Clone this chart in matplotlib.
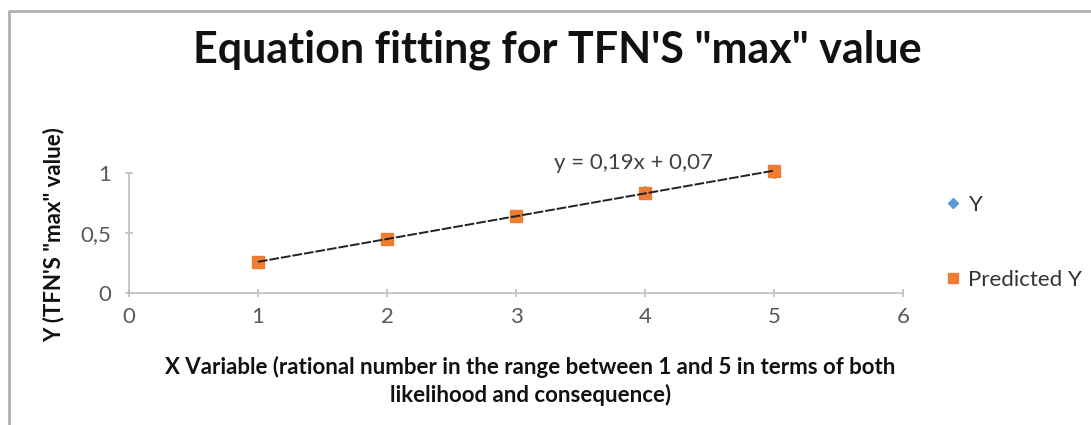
import matplotlib
matplotlib.use("Agg")
import matplotlib.pyplot as plt
from matplotlib.lines import Line2D
import numpy as np

plt.rcParams['font.family'] = ['Lato', 'DejaVu Sans']

x_vals = [1, 2, 3, 4, 5]
y_actual = [0.25, 0.45, 0.65, 0.85, 1.00]
slope = 0.19
intercept = 0.07
y_pred = [0.26, 0.45, 0.64, 0.83, 1.02]
x_ticks = [0, 1, 2, 3, 4, 5, 6]
y_ticks = [0, 0.5, 1]
y_tick_labels = ['0', '0,5', '1']

title = 'Equation fitting for TFN\'S "max" value'
xlabel = 'X Variable (rational number in the range between 1 and 5 in terms of both\nlikelihood and consequence)'
ylabel = 'Y (TFN\'S "max" value)'
eq_text = 'y = 0,19x + 0,07'

fig = plt.figure(figsize=(10.91, 4.25), dpi=100)
ax = fig.add_axes([0.1182, 0.3106, 0.8277 - 0.1182, 0.5929 - 0.3106])

blue = '#5B9BD5'
orange = '#ED7D31'
axis_gray = '#BFBFBF'

ax.plot(x_vals, y_actual, linestyle='none', marker='D', color=blue, markersize=5, zorder=3, clip_on=False)
ax.plot(x_vals, y_pred, linestyle='none', marker='s', color=orange, markersize=8.5, zorder=4, clip_on=False)
xt = np.array([x_vals[0], x_vals[-1]])
ax.plot(xt, slope * xt + intercept, color='#222222', linewidth=1.4, linestyle=(0, (5, 1)), zorder=5, clip_on=False)

ax.set_xlim(0, 6)
ax.set_ylim(0, 1)
ax.set_xticks(x_ticks)
ax.set_yticks(y_ticks)
ax.set_yticklabels(y_tick_labels)
for s in ['top', 'right']:
    ax.spines[s].set_visible(False)
for s in ['left', 'bottom']:
    ax.spines[s].set_color(axis_gray)
    ax.spines[s].set_linewidth(1.2)
ax.tick_params(axis='both', colors=axis_gray, labelcolor='#595959', labelsize=16, length=6, width=1.2, direction='inout')
ax.tick_params(axis='x', pad=7)
ax.tick_params(axis='y', pad=10)

fig.text(0.511, 0.882, title, ha='center', va='center', fontsize=31, fontweight='bold', color='#111111')
fig.text(0.486, 0.103, xlabel, ha='center', va='center', fontsize=16, fontweight='bold', color='#111111', linespacing=1.35)
fig.text(0.049, 0.447, ylabel, ha='center', va='center', rotation=90, fontsize=16, fontweight='bold', color='#111111')
ax.text(3.91, 1.083, eq_text, ha='center', va='center', fontsize=16, color='#404040')

handles = [Line2D([], [], linestyle='none', marker='D', color=blue, markersize=5),
           Line2D([], [], linestyle='none', marker='s', color=orange, markersize=7)]
fig.legend(handles, ['Y', 'Predicted Y'], loc='upper left', bbox_to_anchor=(0.849, 0.589),
           frameon=False, fontsize=16, handlelength=0.6, handletextpad=0.4, labelspacing=2.5,
           labelcolor='#333333')

border = Line2D([0.0085, 0.0085, 1.0], [0.0, 0.974, 0.974], transform=fig.transFigure, color='#B0B0B0', linewidth=2)
fig.add_artist(border)

fig.savefig('out.png', dpi=100)
